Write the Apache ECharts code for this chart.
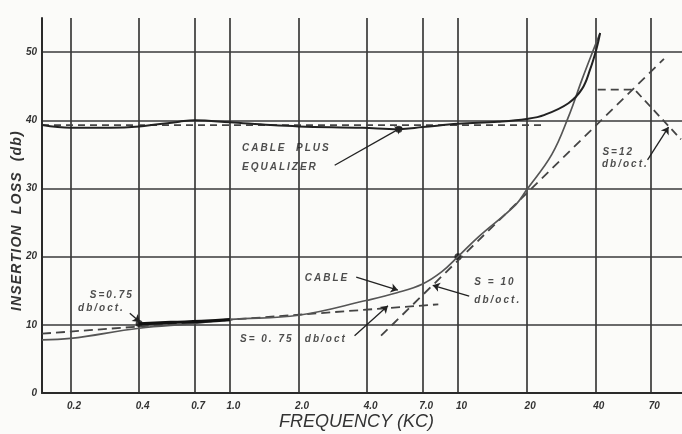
<!DOCTYPE html>
<html><head><meta charset="utf-8">
<script src="https://cdn.jsdelivr.net/npm/echarts@6/dist/echarts.min.js"></script>
<style>html,body{margin:0;padding:0;background:#fbfbf9}#c{width:682px;height:434px}</style>
</head><body><div id="c"></div><script>
// ---- data ----
const freqTicks = [0.2, 0.4, 0.7, 1, 2, 4, 7, 10, 20, 40, 70];
const freqTickLabels = ['0.2', '0.4', '0.7', '1.0', '2.0', '4.0', '7.0', '10', '20', '40', '70'];
const lossTicks = [0, 10, 20, 30, 40, 50];

const cableFreq = [0.15, 0.2, 0.4, 0.7, 1.0, 2.0, 4, 5.4, 7, 8.5, 10, 12.3, 17.9, 20, 25.8, 30.5, 35, 38.9, 42];
const cableLoss = [7.8, 8.0, 9.5, 10.2, 10.8, 11.4, 13.6, 14.7, 16.0, 17.8, 20, 22.9, 27.6, 29.8, 35, 40.5, 46, 50, 52.8];

const eqFreq = [0.15, 0.2, 0.3, 0.4, 0.6, 0.7, 1.0, 1.5, 2.0, 3.8, 5.5, 7, 10, 15, 20, 24, 30.5, 35, 38, 40.5, 42];
const eqLoss = [39.3, 38.9, 38.9, 39.1, 39.8, 40.0, 39.7, 39.3, 39.1, 38.9, 38.7, 39.0, 39.5, 39.8, 40.2, 40.8, 42.5, 44.6, 47.5, 50.5, 52.8];

const slope075Freq = [0.15, 8.2];
const slope075Loss = [8.7, 13.0];
const slope10Freq = [4.6, 80];
const slope10Loss = [8.4, 49];
const eqFlatFreq = [0.15, 24];
const eqFlatLoss = [39.3, 39.3];
const slope12Freq = [41, 59.5, 95];
const slope12Loss = [44.5, 44.5, 37.2];

const heavyFreq = [0.4, 0.55, 0.75, 1.0];
const heavyLoss = [10.15, 10.35, 10.5, 10.75];

const dotFreq = [0.4, 10, 5.5];
const dotLoss = [10.2, 20, 38.7];

// hand-lettered notes: text, left anchor in data units
const noteTexts = ['S=0.75', 'db/oct.', 'CABLE  PLUS', 'EQUALIZER', 'CABLE', 'S= 0. 75', 'db/oct', 'S = 10', 'db/oct.', 'S=12', 'db/oct.'];
const noteFreq = [0.243, 0.216, 1.13, 1.13, 2.13, 1.107, 2.13, 11.8, 11.8, 43, 42.8];
const noteLoss = [14.4, 12.5, 35.9, 33.1, 16.9, 7.9, 7.9, 16.3, 13.6, 35.3, 33.6];
// arrows from note to curve
const arrowFrom = [[0.364, 11.7], [2.88, 33.4], [3.58, 17.0], [3.52, 8.4], [11.2, 14.2], [67.8, 34.2]];
const arrowTo = [[0.403, 10.4], [5.69, 39.0], [5.45, 15.1], [4.93, 12.8], [7.75, 15.8], [83.8, 39.0]];

const zip = (a, b) => a.map((v, i) => [v, b[i]]);
const spaced = (s, sep) => s.split('').join(sep);
const ink = '#2a2a2a';
const hand = { fontFamily: 'Liberation Sans', fontStyle: 'italic', fontWeight: 'bold' };

const chart = echarts.init(document.getElementById('c'), null, { renderer: 'canvas' });
chart.setOption({
  backgroundColor: '#fbfbf9',
  animation: false,
  grid: { left: 42, right: 0, top: 18, bottom: 41 },
  xAxis: {
    type: 'log', logBase: 10, min: 0.15, max: 96,
    axisLine: { show: true, lineStyle: { color: ink, width: 2 } },
    axisTick: { show: false, customValues: freqTicks },
    axisLabel: {
      customValues: freqTicks, margin: 8, color: '#333', fontSize: 10, ...hand, padding: [0, 0, 0, 7],
      formatter: v => {
        let best = 0;
        freqTicks.forEach((t, i) => { if (Math.abs(Math.log(t) - Math.log(v)) < Math.abs(Math.log(freqTicks[best]) - Math.log(v))) best = i; });
        return freqTickLabels[best];
      }
    },
    splitLine: { show: true, lineStyle: { color: '#3a3a3a', width: 1.7 } },
    minorSplitLine: { show: false }
  },
  yAxis: {
    type: 'value', min: 0, max: 55,
    axisLine: { show: true, lineStyle: { color: ink, width: 2 } },
    axisTick: { show: false, customValues: lossTicks },
    axisLabel: { customValues: lossTicks, margin: 5, color: '#333', fontSize: 10, ...hand },
    splitLine: { show: true, lineStyle: { color: '#3a3a3a', width: 1.7 } }
  },
  graphic: [
    { type: 'text', left: 279, top: 413, style: { text: 'FREQUENCY (KC)', fill: '#333', font: 'italic 18px "Liberation Sans"' } },
    { type: 'text', x: 10, y: 311, rotation: Math.PI / 2, style: { text: spaced('INSERTION  LOSS  (db)', '\u200A'), fill: '#333', font: 'italic bold 14px "Liberation Sans"' } }
  ],
  series: [
    { type: 'line', data: zip(eqFlatFreq, eqFlatLoss), symbol: 'none', lineStyle: { color: '#444', width: 1.8, type: [7, 5] } },
    { type: 'line', data: zip(slope075Freq, slope075Loss), symbol: 'none', lineStyle: { color: '#444', width: 1.8, type: [9, 5] } },
    { type: 'line', data: zip(slope10Freq, slope10Loss), symbol: 'none', lineStyle: { color: '#444', width: 1.8, type: [9, 6] } },
    { type: 'line', data: zip(slope12Freq, slope12Loss), symbol: 'none', lineStyle: { color: '#444', width: 1.8, type: [8, 5] } },
    { type: 'line', data: zip(cableFreq, cableLoss), symbol: 'none', smooth: 0.4, lineStyle: { color: '#555', width: 1.7 } },
    { type: 'line', data: zip(eqFreq, eqLoss), symbol: 'none', smooth: 0.4, lineStyle: { color: '#222', width: 2 } },
    { type: 'line', data: zip(heavyFreq, heavyLoss), symbol: 'none', smooth: true, lineStyle: { color: '#111', width: 3.2 } },
    { type: 'scatter', data: zip(dotFreq, dotLoss), symbolSize: 7, itemStyle: { color: '#111' } },
    {
      type: 'scatter', symbolSize: 0, silent: true,
      data: noteTexts.map((t, i) => ({ value: [noteFreq[i], noteLoss[i]], label: { formatter: spaced(t, '\u2009') } })),
      label: { show: true, position: 'right', distance: 0, color: '#222', fontSize: 10, ...hand },
      markLine: {
        silent: true, symbol: ['none', 'arrow'], symbolSize: 7,
        lineStyle: { color: '#222', width: 1.3, type: 'solid' }, label: { show: false },
        data: arrowFrom.map((f, i) => [{ coord: f }, { coord: arrowTo[i] }])
      }
    }
  ]
});
</script></body></html>
